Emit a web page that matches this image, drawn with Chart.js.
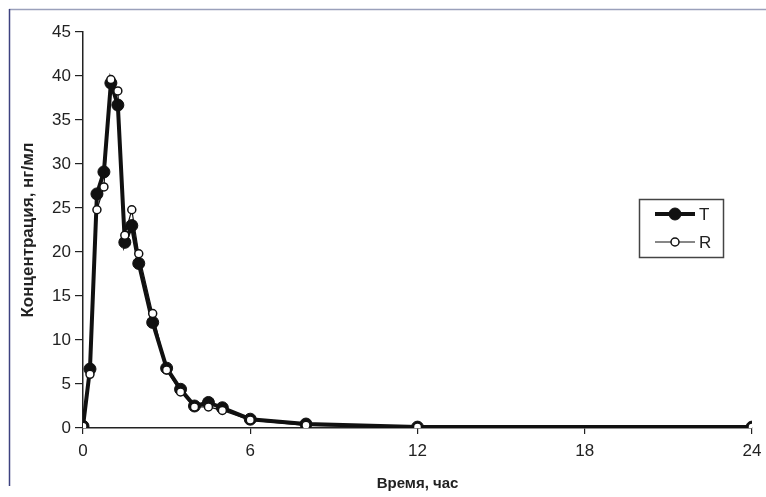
<!DOCTYPE html>
<html>
<head>
<meta charset="utf-8">
<script src="https://cdn.jsdelivr.net/npm/chart.js@4/dist/chart.umd.min.js"></script>
<style>
    html, body { margin: 0; padding: 0; background: #fff; }
    #wrap { width: 766px; height: 497px; position: relative; }
</style>
</head>
<body>
<div id="wrap"><canvas id="myChart" width="766" height="497"></canvas></div>
<script>
// time points, hours
var times = [0, 0.25, 0.5, 0.75, 1, 1.25, 1.5, 1.75, 2, 2.5, 3, 3.5, 4, 4.5, 5, 6, 8, 12, 24];
// concentration, ng/ml
var seriesT = [0.2, 6.7, 26.6, 29.1, 39.2, 36.7, 21.1, 23.0, 18.7, 12.0, 6.8, 4.4, 2.5, 2.9, 2.3, 1.0, 0.45, 0.1, 0.1];
var seriesR = [0.2, 6.1, 24.8, 27.4, 39.6, 38.3, 21.9, 24.8, 19.8, 13.0, 6.6, 4.1, 2.4, 2.4, 2.0, 0.9, 0.3, 0.1, 0.1];
var xTicks = [0, 6, 12, 18, 24];
var yTicks = [0, 5, 10, 15, 20, 25, 30, 35, 40, 45];
var labels = ['T', 'R'];

var axisColor = '#222';
var fontFamily = '"Liberation Sans", Arial, sans-serif';

function toPoints(values) {
    var pts = [];
    for (var i = 0; i < times.length; i++) {
        pts.push({ x: times[i], y: values[i] });
    }
    return pts;
}

// page frame + legend box inside plot
var framePlugin = {
    id: 'frame',
    beforeDraw: function (chart) {
        var ctx = chart.ctx;
        ctx.save();
        ctx.fillStyle = '#fff';
        ctx.fillRect(0, 0, chart.width, chart.height);
        ctx.lineWidth = 1.5;
        ctx.strokeStyle = '#9aa0bb';
        ctx.beginPath();
        ctx.moveTo(9, 9.5);
        ctx.lineTo(chart.width, 9.5);
        ctx.stroke();
        ctx.strokeStyle = '#3d4280';
        ctx.beginPath();
        ctx.moveTo(9.5, 9);
        ctx.lineTo(9.5, 486);
        ctx.stroke();
        ctx.restore();
    },
    afterDraw: function (chart) {
        var ctx = chart.ctx;
        ctx.save();
        ctx.lineWidth = 1.5;
        ctx.strokeStyle = '#444';
        ctx.strokeRect(639.5, 199.5, 84, 58);

        var rows = [
            { y: 214, ds: chart.data.datasets[0] },
            { y: 242, ds: chart.data.datasets[1] }
        ];
        rows.forEach(function (row) {
            var ds = row.ds;
            ctx.strokeStyle = '#111';
            ctx.lineWidth = ds.borderWidth;
            ctx.beginPath();
            ctx.moveTo(655, row.y);
            ctx.lineTo(695, row.y);
            ctx.stroke();
            ctx.beginPath();
            ctx.arc(675, row.y, ds.pointRadius, 0, Math.PI * 2);
            ctx.fillStyle = ds.pointBackgroundColor;
            ctx.fill();
            ctx.lineWidth = ds.pointBorderWidth;
            ctx.stroke();
            ctx.fillStyle = axisColor;
            ctx.font = '17px ' + fontFamily;
            ctx.textBaseline = 'middle';
            ctx.fillText(ds.label, 699, row.y + 1);
        });
        ctx.restore();
    }
};

var data = {
    datasets: [
        {
            label: labels[0],
            data: toPoints(seriesT),
            borderColor: '#111',
            borderWidth: 4,
            pointRadius: 6,
            pointBackgroundColor: '#111',
            pointBorderColor: '#111',
            pointBorderWidth: 1,
            order: 1,
            tension: 0
        },
        {
            label: labels[1],
            data: toPoints(seriesR),
            borderColor: '#111',
            borderWidth: 1.2,
            pointRadius: 4,
            pointBackgroundColor: '#fff',
            pointBorderColor: '#111',
            pointBorderWidth: 1.5,
            order: 0,
            tension: 0
        }
    ]
};

var myChart = new Chart(document.getElementById('myChart').getContext('2d'), {
    type: 'line',
    data: data,
    plugins: [framePlugin],
    options: {
        responsive: false,
        animation: false,
        layout: { padding: { left: 18, right: 14, top: 32, bottom: 0 } },
        plugins: {
            legend: { display: false },
            tooltip: { enabled: false }
        },
        scales: {
            x: {
                type: 'linear',
                min: 0,
                max: 24,
                afterBuildTicks: function (scale) {
                    scale.ticks = xTicks.map(function (v) { return { value: v }; });
                },
                afterFit: function (scale) {
                    scale.height = 69;
                    scale.paddingLeft = 0;
                    scale.paddingRight = 0;
                },
                border: { display: true, color: axisColor, width: 1.5 },
                grid: { display: true, drawOnChartArea: false, drawTicks: true, tickLength: 6, color: axisColor, lineWidth: 1.2 },
                ticks: { color: axisColor, font: { family: fontFamily, size: 17 }, padding: 7, maxRotation: 0 },
                title: {
                    display: true,
                    text: 'Время, час',
                    color: axisColor,
                    font: { family: fontFamily, size: 15, weight: 'bold' },
                    padding: { top: 8 }
                }
            },
            y: {
                min: 0,
                max: 45,
                afterBuildTicks: function (scale) {
                    scale.ticks = yTicks.map(function (v) { return { value: v }; });
                },
                afterFit: function (scale) { scale.width = 65; },
                border: { display: true, color: axisColor, width: 1.5 },
                grid: { display: true, drawOnChartArea: false, drawTicks: true, tickLength: 8, color: axisColor, lineWidth: 1.2 },
                ticks: { color: axisColor, font: { family: fontFamily, size: 17 }, padding: 4 },
                title: {
                    display: true,
                    text: 'Концентрация, нг/мл',
                    color: axisColor,
                    font: { family: fontFamily, size: 17, weight: 'bold' },
                    padding: { top: 0, bottom: 0 }
                }
            }
        }
    }
});
</script>
</body>
</html>
